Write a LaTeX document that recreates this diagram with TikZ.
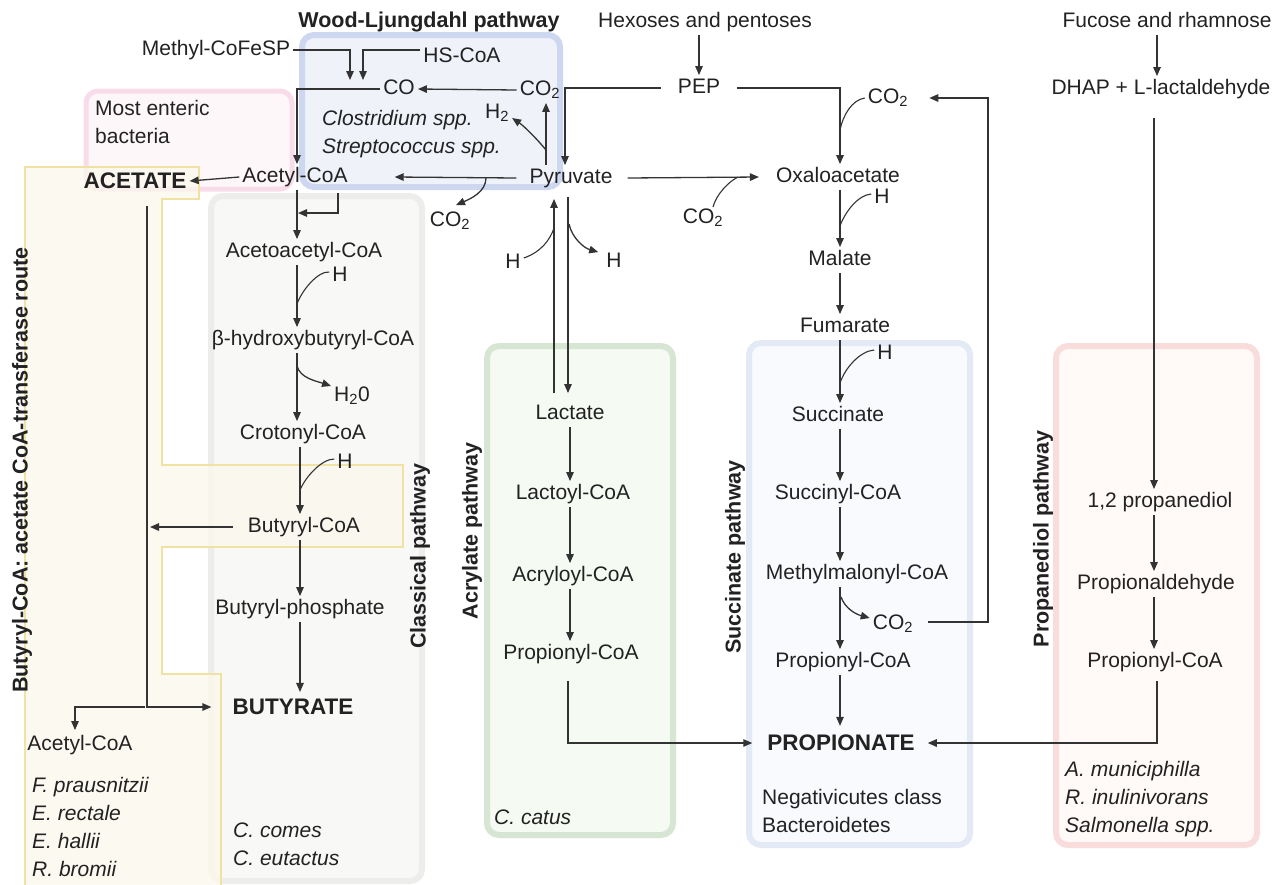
\documentclass[tikz,border=0pt]{standalone}
\usepackage{fontspec}
\setmainfont{Liberation Sans}
\usetikzlibrary{arrows.meta,calc}
\definecolor{ink}{HTML}{222222}
\definecolor{arrowc}{HTML}{333333}
\definecolor{greyb}{HTML}{EDEDEB}
\definecolor{greyf}{HTML}{F8F9F6}
\definecolor{yelb}{HTML}{F1E2A3}
\definecolor{yelf}{HTML}{FCF8EC}
\definecolor{pinkb}{HTML}{F8DCE9}
\definecolor{pinkf}{HTML}{FEF7FA}
\definecolor{wlb}{HTML}{CDD8F0}
\definecolor{wlf}{HTML}{F0F2FA}
\definecolor{greenb}{HTML}{D7E6D3}
\definecolor{greenf}{HTML}{F5FAF3}
\definecolor{blueb}{HTML}{E3EAF5}
\definecolor{bluef}{HTML}{F9FAFE}
\definecolor{redb}{HTML}{F9DCDC}
\definecolor{redf}{HTML}{FFFAF7}
\begin{document}
\begin{tikzpicture}[x=1pt,y=-1pt,
  every node/.style={text=ink},
  lbl/.style={font=\fontsize{21}{28}\selectfont, inner sep=3pt, text height=15.5pt, text depth=4pt},
  lbltwo/.style={font=\fontsize{21}{28}\selectfont, inner sep=0pt, align=left},
  big/.style={font=\fontsize{22.5}{26}\selectfont\bfseries, inner sep=3pt},
  ttl/.style={font=\fontsize{21.5}{24}\selectfont\bfseries, inner sep=2pt},
  spec/.style={font=\fontsize{21}{28}\selectfont\itshape, align=left, inner sep=0pt},
  arr/.style={draw=arrowc, line width=1.3pt, -{Triangle[length=9pt,width=7.5pt]}},
  ln/.style={draw=arrowc, line width=1.1pt},
  pbox/.style={line width=6pt, rounded corners=12pt},
]
\useasboundingbox[fill=white] (0,0) rectangle (1282,884);

% ---------- background boxes ----------
\draw[pbox, draw=greyb, fill=greyf] (211,196) rectangle (422,881);
\draw[pbox, line width=5pt, draw=pinkb, fill=pinkf] (86,91) rectangle (292,189);
\draw[line width=2.5pt, draw=yelb, fill=yelf, fill opacity=0.75] (25,167) -- (199,167) -- (199,199) -- (162,199) -- (162,465) -- (403,465) -- (403,547) -- (162,547) -- (162,674) -- (221,674) -- (221,895) -- (25,895) -- cycle;
\draw[pbox, draw=wlb, fill=wlf] (302,35) rectangle (560,187);
\draw[pbox, draw=greenb, fill=greenf] (487,346) rectangle (673,835);
\draw[pbox, draw=blueb, fill=bluef] (749,343) rectangle (970,845);
\draw[pbox, draw=redb, fill=redf] (1056,346) rectangle (1257,845);

% ---------- titles ----------
\node[ttl] (wl) at (429,22) {Wood-Ljungdahl pathway};
\node[ttl, rotate=90] (tbut) at (22,470) {Butyryl-CoA: acetate CoA-transferase route};
\node[ttl, rotate=90] (tcla) at (420,556) {Classical pathway};
\node[ttl, rotate=90] (tacr) at (472,531) {Acrylate pathway};
\node[ttl, rotate=90] (tsuc) at (735,557) {Succinate pathway};
\node[ttl, rotate=90] (tpro) at (1043,539) {Propanediol pathway};

% ---------- text nodes ----------
\node[lbl] (methyl) at (216,50) {Methyl-CoFeSP};
\node[lbl] (hscoa) at (462,57) {HS-CoA};
\node[lbl] (co) at (399,89) {CO};
\node[lbl] (co2a) at (540,90) {CO\textsubscript{2}};
\node[lbl] (h2a) at (497,113) {H\textsubscript{2}};
\node[spec, anchor=north west] (clos) at (322,110) {Clostridium spp.\\Streptococcus spp.};
\node[lbltwo, anchor=north west] (enteric) at (95,100) {Most enteric\\bacteria};
\node[big] (acetate) at (135,181) {ACETATE};
\node[lbl] (accoa) at (295,177) {Acetyl-CoA};
\node[lbl] (pyr) at (571,178) {Pyruvate};
\node[lbl] (co2b) at (450,221) {CO\textsubscript{2}};
\node[lbl] (hex) at (705,22) {Hexoses and pentoses};
\node[lbl] (pep) at (699,88) {PEP};
\node[lbl] (fuc) at (1167,22) {Fucose and rhamnose};
\node[lbl] (dhap) at (1161,89) {DHAP + L-lactaldehyde};
\node[lbl] (co2c) at (888,98) {CO\textsubscript{2}};
\node[lbl] (oxa) at (838,177) {Oxaloacetate};
\node[lbl] (co2d) at (703,218) {CO\textsubscript{2}};
\node[lbl] (hc) at (882,198) {H};
\node[lbl] (mal) at (840,260) {Malate};
\node[lbl] (fum) at (845,327) {Fumarate};
\node[lbl] (hd) at (885,354) {H};
\node[lbl] (suc) at (838,416) {Succinate};
\node[lbl] (succoa) at (838,494) {Succinyl-CoA};
\node[lbl] (mmcoa) at (857,574) {Methylmalonyl-CoA};
\node[lbl] (co2e) at (893,624) {CO\textsubscript{2}};
\node[lbl] (propcoaS) at (843,662) {Propionyl-CoA};
\node[big] (prop) at (841,743) {PROPIONATE};
\node[lbltwo, anchor=north west] (neg) at (762,789) {Negativicutes class\\Bacteroidetes};
\node[lbl] (hl) at (513,263) {H};
\node[lbl] (hr) at (614,262) {H};
\node[lbl] (lac) at (570,414) {Lactate};
\node[lbl] (laccoa) at (573,494) {Lactoyl-CoA};
\node[lbl] (acrcoa) at (573,576) {Acryloyl-CoA};
\node[lbl] (propcoaA) at (571,654) {Propionyl-CoA};
\node[spec, anchor=north west] (catus) at (494,810) {C. catus};
\node[lbl] (acac) at (304,252) {Acetoacetyl-CoA};
\node[lbl] (ha) at (340,276) {H};
\node[lbl] (bhb) at (313,340) {β-hydroxybutyryl-CoA};
\node[lbl] (h2o) at (352,396) {H\textsubscript{2}0};
\node[lbl] (crot) at (303,434) {Crotonyl-CoA};
\node[lbl] (hb) at (345,463) {H};
\node[lbl] (butcoa) at (304,527) {Butyryl-CoA};
\node[lbl] (butp) at (300,609) {Butyryl-phosphate};
\node[big] (but) at (293,707) {BUTYRATE};
\node[lbl] (accoa2) at (80,745) {Acetyl-CoA};
\node[spec, anchor=north west] (spL) at (32,777) {F. prausnitzii\\E. rectale\\E. hallii\\R. bromii};
\node[spec, anchor=north west] (spC) at (233,823) {C. comes\\C. eutactus};
\node[lbl] (pd) at (1160,502) {1,2 propanediol};
\node[lbl] (pald) at (1156,584) {Propionaldehyde};
\node[lbl] (propcoaP) at (1155,662) {Propionyl-CoA};
\node[spec, anchor=north west] (spP) at (1065,761) {A. municiphilla\\R. inulinivorans\\Salmonella spp.};

% ---------- column coordinates ----------
\coordinate (cS) at (840,0);
\coordinate (cB) at (297,0);
\coordinate (cBb) at (300,0);
\coordinate (cL) at (570,0);
\coordinate (cLd) at (568,0);
\coordinate (cLu) at (554,0);
\coordinate (cP) at (1154,0);
\coordinate (cF) at (1157,0);
\coordinate (vl) at (147,0);
\coordinate (up1) at (546,0);
\coordinate (up2) at (565,0);
\coordinate (c75) at (75,0);
\coordinate (loopx) at (988,0);
\coordinate (in1) at (350,80);
\coordinate (in2) at (363,80);
\coordinate (j1) at (298,213);

% ---------- Wood-Ljungdahl ----------
\draw[arr] (methyl.east) -| (in1);
\draw[arr] (hscoa.west |- methyl.east) -| (in2);
\draw[arr] (co2a.west) -- (co.east);
\draw[arr] (co.west) -| (accoa.north -| cB);
\draw[arr] (pyr.north -| up1) -- (co2a.south -| up1);
\draw[arr] (546,150) .. controls (538,140) and (524,126) .. ($(h2a.east)+(0,5)$);
\draw[arr] ($(pyr.west)+(-10,0)$) -- ($(accoa.east)+(44,0)$);
\draw[arr] (486,178) .. controls (486,192) and (470,199) .. ($(co2b.north)+(6,-3)$);
\draw[arr] (accoa.west) -- (acetate.east);

% ---------- classical ----------
\draw[arr] (accoa.south -| cB) -- (acac.north -| cB);
\draw[arr] ($(accoa.south)+(43,3)$) |- (j1);
\draw[arr] (acac.south -| cB) -- (bhb.north -| cB);
\draw[ln] ($(ha.west)+(0,-4)$) .. controls (318,271) and (302,290) .. (297,304);
\draw[arr] (bhb.south -| cB) -- (crot.north -| cB);
\draw[arr] (297,366) .. controls (300,378) and (316,381) .. ($(h2o.west)+(0,-10)$);
\draw[arr] (crot.south -| cBb) -- (butcoa.north -| cBb);
\draw[ln] ($(hb.west)+(0,-4)$) .. controls (322,459) and (306,476) .. (300,490);
\draw[arr] ($(butcoa.west)+(-12,0)$) -- ($(butcoa.west -| vl)+(3,0)$);
\draw[arr] (butcoa.south -| cBb) -- (butp.north -| cBb);
\draw[arr] (butp.south -| cBb) -- ($(but.north -| cBb)+(0,-4)$);
\draw[arr] ($(acetate.south -| vl)+(0,14)$) |- ($(but.west)+(-18,0)$);
\draw[arr] ($(vl |- but.west)+(-2,0)$) -| ($(accoa2.north -| c75)+(0,-2)$);

% ---------- pyruvate / lactate ----------
\draw[arr] ($(pyr.south -| cLd)+(0,6)$) -- ($(lac.north -| cLd)+(0,-8)$);
\draw[arr] ($(lac.north -| cLu)+(0,-8)$) -- ($(pyr.south -| cLu)+(0,8)$);
\draw[arr] (569,224) .. controls (572,238) and (584,248) .. ($(hr.north west)+(-5,3)$);
\draw[ln] ($(hl.east)+(0,-5)$) .. controls (541,252) and (550,240) .. (554,228);
\draw[arr] (lac.south -| cL) -- (laccoa.north -| cL);
\draw[arr] (laccoa.south -| cL) -- (acrcoa.north -| cL);
\draw[arr] (acrcoa.south -| cL) -- (propcoaA.north -| cL);
\draw[arr] ($(propcoaA.south -| cLd)+(0,14)$) |- ($(prop.west)+(-12,0)$);

% ---------- PEP / succinate ----------
\draw[arr] (hex.south -| pep) -- (pep.north);
\draw[arr] ($(pep.west)+(-14,0)$) -| (pyr.north -| up2);
\draw[arr] ($(pep.east)+(14,0)$) -| (oxa.north -| cS);
\draw[ln] (co2c.west) .. controls (852,100) and (843,115) .. (840,130);
\draw[arr] ($(pyr.east)+(12,0)$) -- ($(oxa.west)+(-14,0)$);
\draw[ln] ($(co2d.north)+(10,2)$) .. controls (716,195) and (728,182) .. (738,177);
\draw[arr] (oxa.south -| cS) -- (mal.north -| cS);
\draw[ln] ($(hc.west)+(0,-4)$) .. controls (858,195) and (845,212) .. (840,226);
\draw[arr] (mal.south -| cS) -- (fum.north -| cS);
\draw[arr] (fum.south -| cS) -- (suc.north -| cS);
\draw[ln] ($(hd.west)+(0,-4)$) .. controls (860,351) and (845,368) .. (840,383);
\draw[arr] (suc.south -| cS) -- (succoa.north -| cS);
\draw[arr] (succoa.south -| cS) -- (mmcoa.north -| cS);
\draw[arr] (mmcoa.south -| cS) -- (propcoaS.north -| cS);
\draw[arr] (841,597) .. controls (845,608) and (855,614) .. ($(co2e.west)+(0,-6)$);
\draw[arr] (propcoaS.south -| cS) -- ($(prop.north -| cS)+(0,-6)$);
\draw[arr] ($(co2e.east)+(12,-2)$) -| (loopx |- co2c.east) -- ($(co2c.east)+(18,0)$);

% ---------- propanediol ----------
\draw[arr] (fuc.south -| cF) -- (dhap.north -| cF);
\draw[arr] ($(dhap.south -| cP)+(0,16)$) -- (pd.north -| cP);
\draw[arr] (pd.south -| cP) -- (pald.north -| cP);
\draw[arr] (pald.south -| cP) -- (propcoaP.north -| cP);
\draw[arr] ($(propcoaP.south -| cP)+(3,6)$) |- ($(prop.east)+(10,0)$);
\end{tikzpicture}
\end{document}
